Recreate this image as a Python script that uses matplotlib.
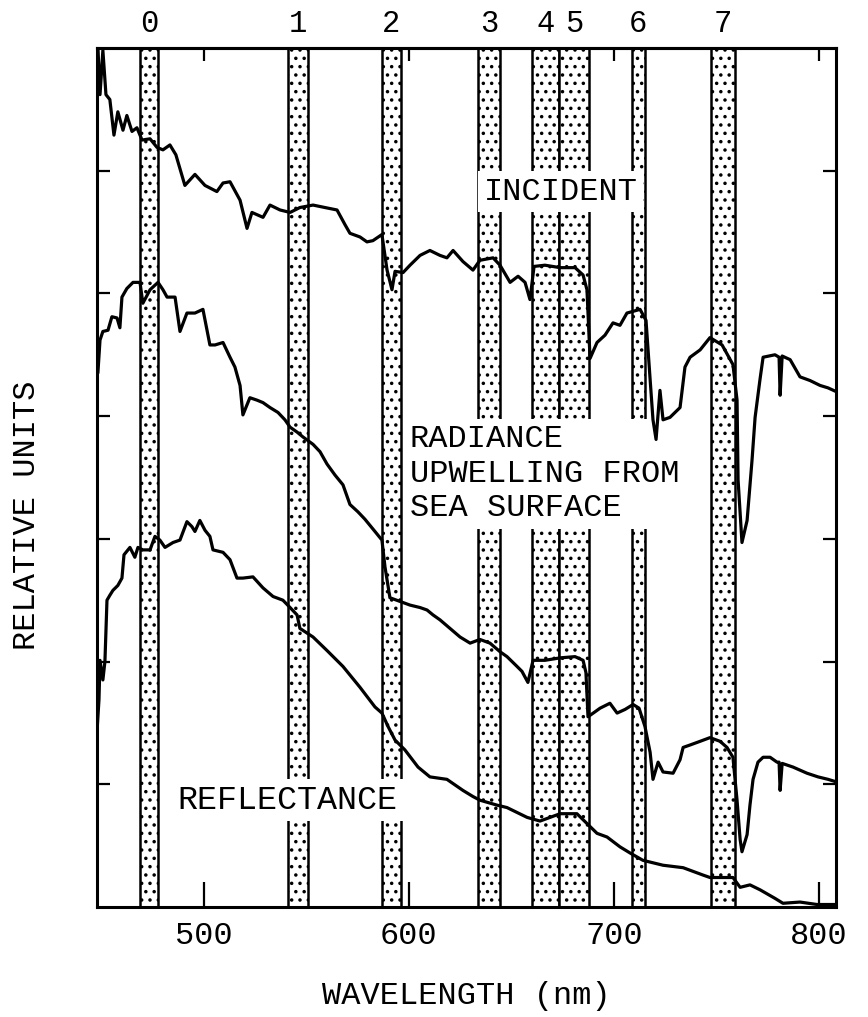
import matplotlib
matplotlib.use('Agg')
import matplotlib.pyplot as plt

# wavelength (nm) / relative units
incident_nm = [448.3, 449.3, 450.7, 452.2, 454.1, 456.1, 458.0, 460.5, 462.4, 464.9, 467.3, 469.8,
               473.7, 477.1, 480.0, 483.4, 486.3, 490.7, 495.6, 500.5, 506.3, 509.3, 512.7, 517.6,
               521.0, 523.4, 528.8, 532.2, 537.1, 542.0, 546.8, 553.2, 559.0, 564.9, 568.8, 571.2,
               576.1, 579.5, 582.4, 586.8, 589.3, 591.7, 593.2, 597.1, 600.5, 605.4, 610.2, 615.1,
               618.5, 621.5, 626.3, 631.2, 634.6, 641.0, 644.4, 649.3, 653.2, 656.6, 659.0, 661.0,
               666.3, 673.7, 681.0, 684.9, 686.8, 688.3, 691.7, 695.6, 699.5, 702.9, 706.3, 712.7,
               715.6, 717.6, 719.0, 720.5, 722.4, 723.9, 727.3, 732.2, 734.6, 737.1, 742.0, 746.8,
               752.7, 758.0, 760.0, 760.5, 762.4, 764.9, 767.3, 768.8, 771.2, 772.7, 778.5, 780.5,
               781.0, 782.0, 785.9, 790.7, 795.6, 800.5, 804.4, 808.3]
incident = [7.00, 6.62, 6.98, 6.62, 6.58, 6.29, 6.48, 6.33, 6.45, 6.32, 6.35, 6.25,
            6.26, 6.19, 6.17, 6.21, 6.13, 5.88, 5.97, 5.88, 5.83, 5.90, 5.91, 5.76,
            5.53, 5.66, 5.62, 5.72, 5.68, 5.66, 5.70, 5.72, 5.70, 5.68, 5.56, 5.49,
            5.46, 5.42, 5.43, 5.48, 5.19, 5.03, 5.18, 5.17, 5.23, 5.31, 5.35, 5.31,
            5.29, 5.35, 5.26, 5.19, 5.27, 5.29, 5.23, 5.09, 5.14, 5.09, 4.95, 5.22,
            5.23, 5.21, 5.21, 5.15, 5.03, 4.47, 4.60, 4.66, 4.76, 4.74, 4.84, 4.87,
            4.78, 4.30, 3.97, 3.81, 4.21, 3.97, 3.99, 4.07, 4.40, 4.48, 4.54, 4.64,
            4.58, 4.42, 4.13, 3.48, 2.97, 3.15, 3.64, 3.99, 4.30, 4.48, 4.50, 4.48,
            4.17, 4.49, 4.46, 4.32, 4.29, 4.25, 4.23, 4.20]

radiance_nm = [448.3, 449.3, 450.7, 453.2, 455.1, 457.6, 459.0, 460.0, 462.4, 465.4, 468.8, 470.2,
               473.7, 477.6, 480.0, 482.0, 485.9, 488.3, 491.7, 495.6, 499.5, 502.9, 505.4, 509.3,
               512.7, 515.1, 517.6, 519.0, 522.4, 525.9, 528.8, 532.2, 536.1, 539.5, 542.0, 545.4,
               548.3, 553.2, 556.6, 560.0, 563.9, 567.8, 571.2, 575.1, 578.5, 583.4, 586.8, 588.3,
               590.7, 595.6, 600.5, 605.4, 608.8, 611.7, 615.1, 620.0, 624.9, 629.8, 634.6, 639.5,
               644.4, 647.8, 652.7, 655.1, 658.0, 660.5, 666.3, 673.7, 681.0, 684.9, 686.3, 687.3,
               690.7, 693.2, 698.0, 701.5, 705.4, 709.3, 712.2, 715.1, 717.6, 719.0, 721.5, 723.9,
               728.8, 732.2, 733.7, 737.1, 742.0, 746.8, 751.7, 755.1, 758.0, 760.0, 761.5, 762.4,
               764.9, 766.3, 767.8, 770.2, 772.7, 776.1, 779.5, 780.5, 781.0, 782.0, 787.3, 794.1,
               799.5, 804.4, 808.3]
radiance = [4.36, 4.62, 4.69, 4.70, 4.81, 4.80, 4.72, 4.97, 5.04, 5.09, 5.09, 4.92,
            5.03, 5.09, 5.03, 4.97, 4.97, 4.69, 4.84, 4.84, 4.87, 4.58, 4.58, 4.60,
            4.48, 4.40, 4.25, 4.01, 4.15, 4.13, 4.11, 4.07, 4.03, 3.97, 3.91, 3.87,
            3.83, 3.77, 3.71, 3.61, 3.52, 3.44, 3.28, 3.22, 3.16, 3.06, 2.99, 2.77,
            2.52, 2.49, 2.46, 2.44, 2.42, 2.38, 2.34, 2.27, 2.20, 2.15, 2.18, 2.15,
            2.08, 2.04, 1.96, 1.92, 1.83, 2.01, 2.01, 2.03, 2.04, 2.01, 1.91, 1.55,
            1.59, 1.62, 1.66, 1.58, 1.61, 1.65, 1.62, 1.47, 1.26, 1.04, 1.18, 1.10,
            1.09, 1.20, 1.30, 1.32, 1.35, 1.38, 1.35, 1.30, 1.22, 0.87, 0.55, 0.45,
            0.59, 0.83, 1.04, 1.18, 1.22, 1.22, 1.18, 1.18, 0.95, 1.17, 1.14, 1.09,
            1.06, 1.04, 1.02]

reflect_nm = [447.8, 448.8, 449.3, 450.7, 451.7, 452.7, 454.1, 455.6, 458.0, 460.0, 461.0, 463.9,
              466.3, 467.8, 470.2, 473.7, 476.1, 478.5, 481.0, 484.9, 488.3, 491.7, 494.1, 495.6,
              498.0, 500.5, 502.9, 504.4, 509.3, 512.7, 516.1, 519.0, 523.9, 528.8, 533.7, 538.5,
              542.0, 545.4, 546.8, 553.2, 560.0, 567.8, 576.1, 583.4, 586.8, 589.8, 593.2, 598.0,
              604.4, 610.2, 618.5, 626.3, 631.2, 634.6, 642.9, 647.8, 652.7, 657.6, 663.9, 673.7,
              681.9, 686.8, 691.7, 696.6, 702.9, 707.8, 714.1, 723.9, 733.7, 743.4, 746.8, 758.0,
              761.5, 766.3, 771.2, 778.5, 782.4, 790.7, 799.0, 808.3]
reflect = [1.42, 1.69, 2.01, 1.85, 2.00, 2.50, 2.54, 2.58, 2.62, 2.68, 2.87, 2.93,
           2.85, 2.93, 2.91, 2.91, 3.02, 2.99, 2.93, 2.97, 2.99, 3.14, 3.10, 3.06,
           3.15, 3.07, 3.02, 2.91, 2.89, 2.83, 2.68, 2.68, 2.69, 2.60, 2.53, 2.50,
           2.44, 2.38, 2.27, 2.20, 2.09, 1.96, 1.79, 1.63, 1.58, 1.47, 1.36, 1.28,
           1.14, 1.06, 1.04, 0.95, 0.90, 0.87, 0.83, 0.81, 0.77, 0.73, 0.70, 0.76,
           0.76, 0.68, 0.60, 0.57, 0.49, 0.44, 0.38, 0.34, 0.32, 0.26, 0.24, 0.24,
           0.16, 0.18, 0.14, 0.07, 0.03, 0.04, 0.02, 0.02]

# spectral bands (nm)
band_names = ['0', '1', '2', '3', '4', '5', '6', '7']
band_lo = [468.8, 541.2, 586.6, 633.7, 659.8, 673.2, 708.8, 747.3]
band_hi = [477.8, 550.7, 596.3, 644.4, 673.2, 687.6, 714.9, 759.0]

x_ticks = [500, 600, 700, 800]

plt.rcParams['font.family'] = ['Liberation Mono', 'DejaVu Sans Mono']
plt.rcParams['hatch.linewidth'] = 1.3

fig = plt.figure(figsize=(8.68, 10.17), dpi=100)
ax = fig.add_axes([0.1112, 0.1082, 0.8525, 0.8446])

for lo, hi, name in zip(band_lo, band_hi, band_names):
    ax.axvspan(lo, hi, facecolor='white', edgecolor='black', hatch='..', linewidth=1.8, zorder=1)
    ax.text((lo + hi) / 2, 1.028, name, transform=ax.get_xaxis_transform(),
            ha='center', va='center', fontsize=22)

ax.plot(incident_nm, incident, color='black', lw=2.3, zorder=3)
ax.plot(radiance_nm, radiance, color='black', lw=2.3, zorder=3)
ax.plot(reflect_nm, reflect, color='black', lw=2.3, zorder=3)

box = dict(facecolor='white', edgecolor='none', pad=4)
ax.text(674, 5.83, 'INCIDENT', ha='center', va='center', fontsize=23, bbox=box, zorder=2)
ax.text(600.3, 3.53, 'RADIANCE\nUPWELLING FROM\nSEA SURFACE', ha='left', va='center',
        fontsize=23, linespacing=1.2, bbox=box, zorder=2)
ax.text(487, 0.87, 'REFLECTANCE', ha='left', va='center', fontsize=24, bbox=box, zorder=2)

ax.set_xlim(447.6, 808.5)
ax.set_ylim(0, 7)
ax.set_xticks(x_ticks)
ax.set_xticklabels([str(t) for t in x_ticks], fontsize=23)
ax.set_yticks(range(1, 7))
ax.set_yticklabels([])
ax.tick_params(axis='x', direction='in', length=18, width=1.6, pad=10, top=False)
ax.tick_params(axis='y', direction='in', length=9.5, width=1.6, left=True, right=True)

top = ax.secondary_xaxis('top')
top.set_xticks(x_ticks)
top.tick_params(direction='in', length=9, width=1.6, labeltop=False)
top.spines['top'].set_linewidth(2.2)

for s in ax.spines.values():
    s.set_linewidth(2.2)

ax.set_xlabel('WAVELENGTH (nm)', fontsize=23, labelpad=22)
ax.set_ylabel('RELATIVE UNITS', fontsize=23)
ax.yaxis.set_label_coords(-0.074, 0.456)

fig.savefig('out.png', dpi=100, facecolor='white')
